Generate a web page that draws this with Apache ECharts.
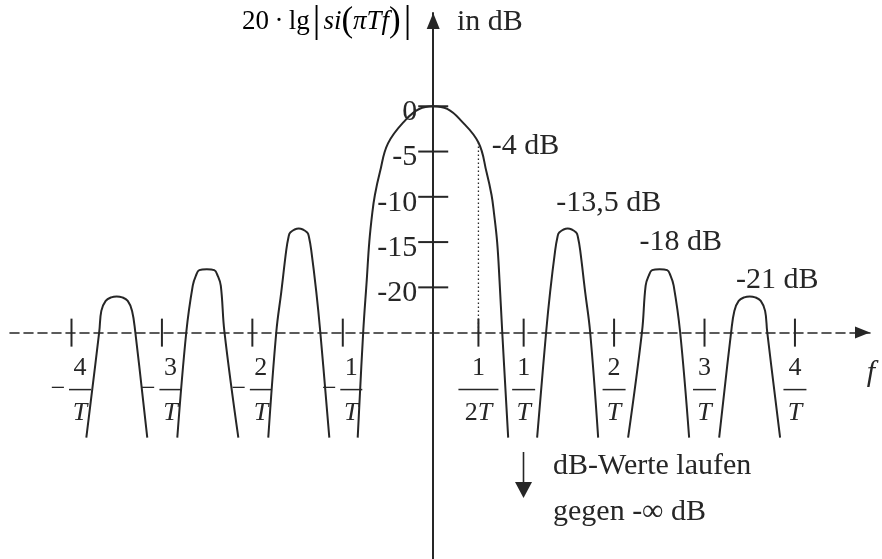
<!DOCTYPE html>
<html>
<head>
<meta charset="utf-8">
<script src="https://cdn.jsdelivr.net/npm/echarts@6/dist/echarts.min.js"></script>
<style>
  html, body { margin: 0; padding: 0; background: #ffffff; }
  #chart { width: 882px; height: 559px; }
</style>
</head>
<body>
<div id="chart"></div>
<script>
// Frequency f in units of 1/T, level 20·lg|si(πTf)| in dB.

// main lobe
const mainLobeF  = [-0.835, -0.774, -0.735, -0.707, -0.674, -0.645, -0.590, -0.500, -0.305, -0.155, 0, 0.155, 0.300, 0.500, 0.590, 0.645, 0.672, 0.707, 0.733, 0.763, 0.829];
const mainLobeDb = [-36.6, -24.9, -19.2, -15.0, -11.8, -9.8, -7.3, -4.1, -1.5, -0.3, 0, -0.3, -1.5, -4, -7.3, -9.8, -11.8, -15.0, -19.2, -24.9, -36.6];

// first side lobes (between 1/T and 2/T)
const lobe1F     = [1.149, 1.249, 1.293, 1.349, 1.373, 1.393, 1.487, 1.581, 1.601, 1.625, 1.680, 1.735, 1.824];
const lobe1Db    = [-36.6, -24.9, -20.5, -15.9, -14.5, -13.94, -13.5, -13.94, -14.5, -15.9, -20.5, -24.9, -36.6];
const lobeM1F    = [-1.824, -1.735, -1.680, -1.625, -1.601, -1.581, -1.487, -1.393, -1.373, -1.349, -1.293, -1.249, -1.149];
const lobeM1Db   = [-36.6, -24.9, -20.5, -15.9, -14.5, -13.94, -13.5, -13.94, -14.5, -15.9, -20.5, -24.9, -36.6];

// second side lobes (between 2/T and 3/T)
const lobe2F     = [2.155, 2.309, 2.349, 2.384, 2.421, 2.504, 2.587, 2.624, 2.659, 2.730, 2.830];
const lobe2Db    = [-36.6, -24.9, -19.8, -18.7, -18.1, -18, -18.1, -18.7, -19.8, -24.9, -36.6];
const lobeM2F    = [-2.830, -2.730, -2.659, -2.624, -2.587, -2.504, -2.421, -2.384, -2.349, -2.309, -2.155];
const lobeM2Db   = [-36.6, -24.9, -19.8, -18.7, -18.1, -18, -18.1, -18.7, -19.8, -24.9, -36.6];

// third side lobes (between 3/T and 4/T)
const lobe3F     = [3.162, 3.295, 3.330, 3.378, 3.440, 3.500, 3.560, 3.622, 3.670, 3.693, 3.836];
const lobe3Db    = [-36.6, -24.9, -22.6, -21.5, -21.1, -21, -21.1, -21.5, -22.6, -24.9, -36.6];
const lobeM3F    = [-3.836, -3.693, -3.670, -3.622, -3.560, -3.500, -3.440, -3.378, -3.330, -3.295, -3.162];
const lobeM3Db   = [-36.6, -24.9, -22.6, -21.5, -21.1, -21, -21.1, -21.5, -22.6, -24.9, -36.6];

// annotated levels
const markF  = [0.5, 1.487, 2.504, 3.5];
const markDb = [-4, -13.5, -18, -21];

// axes
const yTickValues = [0, -5, -10, -15, -20];
const fTickValues = [-4, -3, -2, -1, 0.5, 1, 2, 3, 4];
const fAxisLevelDb = -25;

const INK = '#262626';
const SERIF = '"Liberation Serif", "Times New Roman", serif';

const pairs = (fs, ds) => fs.map((f, i) => [f, ds[i]]);

const curves = [
  [mainLobeF, mainLobeDb],
  [lobe1F, lobe1Db], [lobeM1F, lobeM1Db],
  [lobe2F, lobe2Db], [lobeM2F, lobeM2Db],
  [lobe3F, lobe3Db], [lobeM3F, lobeM3Db]
];

const curveSeries = curves.map(([fs, ds]) => ({
  type: 'line',
  xAxisIndex: 0, yAxisIndex: 0,
  data: pairs(fs, ds),
  smooth: 0.4,
  symbol: 'none',
  silent: true,
  lineStyle: { color: INK, width: 2 },
  z: 3
}));

// f-axis tick label as a stacked fraction k/T (with a leading minus for negative f)
function fracLabel(v) {
  if (v === 0.5) return '{n|1}\n{b2|}\n{d|2}{dT|T}';
  const k = Math.abs(v);
  if (v < 0) return '{sp|}{nn|' + k + '}{tr|}\n{m|\u2212}{bn|}{tr|}\n{sp|}{dTn|T}{tr|}';
  return '{n|' + k + '}\n{b|}\n{dT|T}';
}

const fracRich = {
  n:   { fontFamily: SERIF, fontSize: 26, color: INK, lineHeight: 26 },
  nn:  { fontFamily: SERIF, fontSize: 26, color: INK, lineHeight: 26, width: 22, align: 'center' },
  sp:  { width: 22, lineHeight: 26 },
  tr:  { width: 5, lineHeight: 16 },
  m:   { fontFamily: SERIF, fontSize: 26, color: INK, lineHeight: 16, width: 22, align: 'center' },
  b:   { width: 23, height: 1.5, lineHeight: 16, backgroundColor: INK },
  bn:  { width: 22, height: 1.5, lineHeight: 16, backgroundColor: INK },
  b2:  { width: 40, height: 1.5, lineHeight: 16, backgroundColor: INK },
  d:   { fontFamily: SERIF, fontSize: 26, color: INK, lineHeight: 32 },
  dT:  { fontFamily: SERIF, fontSize: 26, fontStyle: 'italic', color: INK, lineHeight: 32 },
  dTn: { fontFamily: SERIF, fontSize: 26, fontStyle: 'italic', color: INK, lineHeight: 32, width: 22, align: 'center' }
};

const dbText = v => String(v).replace('.', ',') + ' dB';
const markOffsets = [[47, 3.5], [41, -25.5], [21, -27], [27.5, -16.5]];

const option = {
  animation: false,
  backgroundColor: '#ffffff',
  grid: [
    { left: 10, width: 860, top: 13, height: 546, outerBoundsMode: 'none', containLabel: false },
    { left: 10, width: 860, top: 13, height: 319.6, outerBoundsMode: 'none', containLabel: false }
  ],
  xAxis: [
    { gridIndex: 0, type: 'value', min: -4.68, max: 4.83, show: false },
    {
      gridIndex: 1, type: 'value', min: -4.68, max: 4.83, position: 'bottom',
      axisLine: {
        show: true, onZero: false,
        symbol: ['none', 'triangle'], symbolSize: [12, 15], symbolOffset: [0, -7.5],
        lineStyle: { color: INK, width: 1.6, type: [9, 5] }
      },
      axisTick: { show: false },
      splitLine: { show: false },
      axisLabel: {
        show: true,
        customValues: fTickValues,
        margin: 23,
        formatter: fracLabel,
        rich: fracRich
      }
    }
  ],
  yAxis: [
    {
      gridIndex: 0, type: 'value', min: -50, max: 10.3, interval: 5,
      axisLine: {
        show: true, onZero: true,
        symbol: ['none', 'triangle'], symbolSize: [13, 16], symbolOffset: [0, -8],
        lineStyle: { color: INK, width: 2 }
      },
      axisTick: { show: false },
      splitLine: { show: false },
      axisLabel: { show: false }
    },
    { gridIndex: 1, type: 'value', min: -25, max: 10.3, show: false }
  ],
  series: [
    ...curveSeries,
    {
      // dotted drop line from the -4 dB point to the f-axis
      type: 'line', xAxisIndex: 0, yAxisIndex: 0, silent: true,
      data: [[markF[0], markDb[0]], [markF[0], fAxisLevelDb]],
      symbol: 'none',
      lineStyle: { color: INK, width: 1.3, type: [1.5, 2.5] },
      z: 2
    },
    {
      // level ticks crossing the dB axis, with their labels
      type: 'scatter', xAxisIndex: 0, yAxisIndex: 0, silent: true,
      data: yTickValues.map(v => [0, v]),
      symbol: 'rect', symbolSize: [30, 2],
      itemStyle: { color: INK, opacity: 1 },
      label: {
        show: true, position: 'inside', align: 'right', verticalAlign: 'middle',
        offset: [-16, 6],
        formatter: p => String(p.value[1]),
        fontFamily: SERIF, fontSize: 30, color: INK
      },
      z: 4
    },
    {
      // frequency ticks crossing the f-axis
      type: 'scatter', xAxisIndex: 0, yAxisIndex: 0, silent: true,
      data: fTickValues.map(v => [v, fAxisLevelDb]),
      symbol: 'rect', symbolSize: [2, 28],
      itemStyle: { color: INK, opacity: 1 }, z: 4
    },
    {
      // level annotations
      type: 'scatter', xAxisIndex: 0, yAxisIndex: 0, silent: true,
      symbolSize: 1,
      itemStyle: { color: 'rgba(0,0,0,0)', opacity: 1 },
      data: markF.map((f, i) => ({ value: [f, markDb[i]], label: { offset: markOffsets[i] } })),
      label: {
        show: true, position: 'inside', align: 'center', verticalAlign: 'middle',
        formatter: p => dbText(p.value[1]),
        fontFamily: SERIF, fontSize: 30, color: INK
      },
      z: 5
    }
  ],
  graphic: [
    {
      type: 'text', x: 242, y: 22, silent: true,
      style: {
        text: '{a|20\u2009·\u2009lg}{v||}{i|si}{p|(}{i|\u03c0Tf}{p|)}{v||}',
        verticalAlign: 'middle', align: 'left',
        rich: {
          a: { fontFamily: SERIF, fontSize: 27, color: INK },
          v: { fontFamily: SERIF, fontSize: 38, color: INK, padding: [0, 3, 0, 3] },
          i: { fontFamily: SERIF, fontSize: 27, fontStyle: 'italic', color: INK },
          p: { fontFamily: SERIF, fontSize: 35, color: INK }
        }
      }
    },
    {
      type: 'text', x: 457, y: 22, silent: true,
      style: { text: 'in dB', fontFamily: SERIF, fontSize: 30, fill: INK, verticalAlign: 'middle', align: 'left' }
    },
    {
      type: 'text', x: 871, y: 373, silent: true,
      style: { text: 'f', fontFamily: SERIF, fontSize: 30, fontStyle: 'italic', fill: INK, verticalAlign: 'middle', align: 'center' }
    },
    {
      type: 'line', silent: true,
      shape: { x1: 523.5, y1: 452, x2: 523.5, y2: 486 },
      style: { stroke: INK, lineWidth: 1.6 }
    },
    {
      type: 'polygon', silent: true,
      shape: { points: [[515, 482], [532, 482], [523.5, 498]] },
      style: { fill: INK }
    },
    {
      type: 'text', x: 553, y: 443, silent: true,
      style: {
        text: 'dB-Werte laufen\ngegen -\u221e dB',
        fontFamily: SERIF, fontSize: 30, lineHeight: 46, fill: INK,
        verticalAlign: 'top', align: 'left'
      }
    }
  ]
};

const chart = echarts.init(document.getElementById('chart'), null, { renderer: 'canvas' });
chart.setOption(option);
</script>
</body>
</html>
